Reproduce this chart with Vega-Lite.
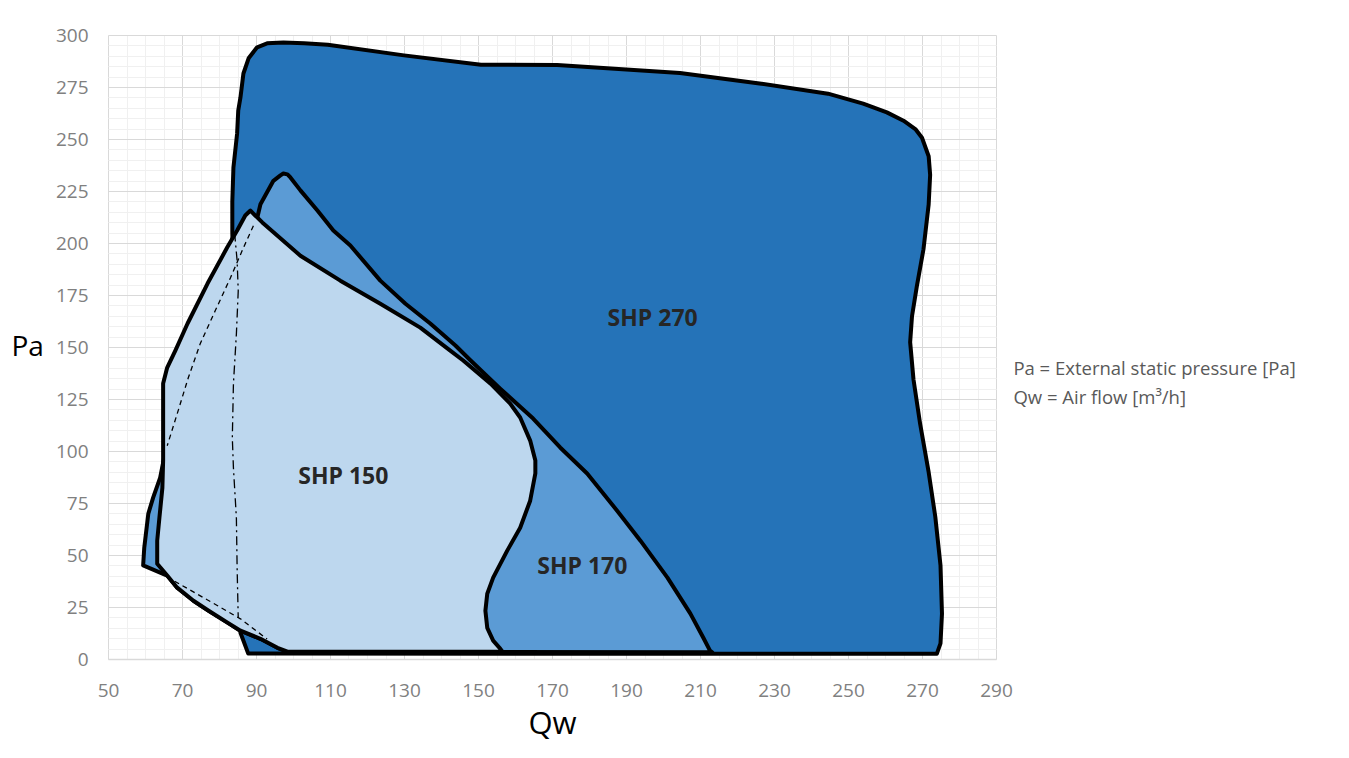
{
  "$schema": "https://vega.github.io/schema/vega-lite/v6.json",
  "width": 888,
  "height": 624,
  "autosize": "none",
  "padding": {"left": 108, "top": 35, "right": 353, "bottom": 99},
  "background": "white",
  "config": {"view": {"stroke": null}, "font": "Open Sans"},
  "datasets": {
    "shp270": [
      {"i":1,"Qw":87.9,"Pa":2.6},{"i":2,"Qw":85.8,"Pa":12.6},{"i":3,"Qw":83.6,"Pa":205},{"i":4,"Qw":83.6,"Pa":220},
      {"i":5,"Qw":83.9,"Pa":236.3},{"i":6,"Qw":84.9,"Pa":252.7},{"i":7,"Qw":85.2,"Pa":263.7},{"i":8,"Qw":85.8,"Pa":270},
      {"i":9,"Qw":86.6,"Pa":281.5},{"i":10,"Qw":88,"Pa":288.8},{"i":11,"Qw":90.3,"Pa":294.1},{"i":12,"Qw":93,"Pa":296},
      {"i":13,"Qw":97.4,"Pa":296.4},{"i":14,"Qw":103,"Pa":296},{"i":15,"Qw":109.4,"Pa":295.3},{"i":16,"Qw":130,"Pa":290.2},
      {"i":17,"Qw":150.8,"Pa":285.7},{"i":18,"Qw":171.4,"Pa":285.6},{"i":19,"Qw":204.6,"Pa":281.7},{"i":20,"Qw":226.6,"Pa":276.6},
      {"i":21,"Qw":244.6,"Pa":271.8},{"i":22,"Qw":254.1,"Pa":267},{"i":23,"Qw":260.5,"Pa":262.8},{"i":24,"Qw":265,"Pa":258.8},
      {"i":25,"Qw":268.2,"Pa":254.8},{"i":26,"Qw":270,"Pa":250.6},{"i":27,"Qw":271.8,"Pa":241.7},{"i":28,"Qw":272.2,"Pa":232.8},
      {"i":29,"Qw":271.8,"Pa":218.5},{"i":30,"Qw":270.4,"Pa":197},{"i":31,"Qw":268.6,"Pa":179.1},{"i":32,"Qw":267.3,"Pa":164.8},
      {"i":33,"Qw":266.8,"Pa":152.3},{"i":34,"Qw":267.7,"Pa":134.4},{"i":35,"Qw":269.5,"Pa":113},{"i":36,"Qw":271.8,"Pa":89.8},
      {"i":37,"Qw":273.6,"Pa":68.3},{"i":38,"Qw":275,"Pa":45},{"i":39,"Qw":275.4,"Pa":21.8},{"i":40,"Qw":275,"Pa":7.5},
      {"i":41,"Qw":274,"Pa":2.5}
    ],
    "shp170": [
      {"i":1,"Qw":59.5,"Pa":45},{"i":2,"Qw":59.8,"Pa":53.5},{"i":3,"Qw":60.9,"Pa":69.9},{"i":4,"Qw":62.2,"Pa":77.6},
      {"i":5,"Qw":64.1,"Pa":87.2},{"i":6,"Qw":64.9,"Pa":94.4},{"i":7,"Qw":65.5,"Pa":100.2},{"i":8,"Qw":66,"Pa":114.6},
      {"i":9,"Qw":66.8,"Pa":131.5},{"i":10,"Qw":70.9,"Pa":148.3},{"i":11,"Qw":79,"Pa":172.3},{"i":12,"Qw":84.9,"Pa":191.6},
      {"i":13,"Qw":88.5,"Pa":206},{"i":14,"Qw":90.3,"Pa":211.8},{"i":15,"Qw":91.2,"Pa":218.6},{"i":16,"Qw":94.7,"Pa":229.9},
      {"i":17,"Qw":96.6,"Pa":232.5},{"i":18,"Qw":97.4,"Pa":233.4},{"i":19,"Qw":98.5,"Pa":233},{"i":20,"Qw":99.3,"Pa":231.5},
      {"i":21,"Qw":102,"Pa":225.3},{"i":22,"Qw":106.6,"Pa":215.6},{"i":23,"Qw":110.9,"Pa":206},{"i":24,"Qw":115.5,"Pa":198.8},
      {"i":25,"Qw":123.6,"Pa":181.9},{"i":26,"Qw":130.4,"Pa":170.8},{"i":27,"Qw":137.1,"Pa":161.3},{"i":28,"Qw":143.9,"Pa":150.7},
      {"i":29,"Qw":148,"Pa":143.5},{"i":30,"Qw":156,"Pa":130},{"i":31,"Qw":164.9,"Pa":115.6},{"i":32,"Qw":172.2,"Pa":101.7},
      {"i":33,"Qw":179.5,"Pa":89.2},{"i":34,"Qw":187.6,"Pa":71.3},{"i":35,"Qw":193.9,"Pa":56.9},{"i":36,"Qw":201.2,"Pa":39.1},
      {"i":37,"Qw":207.4,"Pa":21.8},{"i":38,"Qw":210.9,"Pa":10.2},{"i":39,"Qw":212.7,"Pa":4},{"i":40,"Qw":213.3,"Pa":3.2},
      {"i":41,"Qw":98.5,"Pa":3.5},{"i":42,"Qw":95.8,"Pa":5.4},{"i":43,"Qw":91.2,"Pa":9.7},{"i":44,"Qw":85.8,"Pa":13.6},
      {"i":45,"Qw":82.3,"Pa":17.5},{"i":46,"Qw":77.2,"Pa":23.2},{"i":47,"Qw":73.1,"Pa":28},{"i":48,"Qw":68.7,"Pa":34.3},
      {"i":49,"Qw":66,"Pa":40.1}
    ],
    "shp150": [
      {"i":1,"Qw":88.5,"Pa":215.6},{"i":2,"Qw":89.8,"Pa":213.2},{"i":3,"Qw":91.7,"Pa":209.9},{"i":4,"Qw":102,"Pa":193.9},
      {"i":5,"Qw":112.8,"Pa":181.9},{"i":6,"Qw":123.6,"Pa":170.8},{"i":7,"Qw":134.4,"Pa":159.3},{"i":8,"Qw":142.5,"Pa":148.3},
      {"i":9,"Qw":146,"Pa":143.5},{"i":10,"Qw":153.4,"Pa":132.4},{"i":11,"Qw":158.7,"Pa":122.8},{"i":12,"Qw":161.4,"Pa":116.1},
      {"i":13,"Qw":164.1,"Pa":105},{"i":14,"Qw":165.5,"Pa":95.4},{"i":15,"Qw":165.5,"Pa":89.2},{"i":16,"Qw":164.1,"Pa":76.1},
      {"i":17,"Qw":161.4,"Pa":63.1},{"i":18,"Qw":157.9,"Pa":52.1},{"i":19,"Qw":154.1,"Pa":39.1},{"i":20,"Qw":152.5,"Pa":31.4},
      {"i":21,"Qw":152,"Pa":23.2},{"i":22,"Qw":152.5,"Pa":15},{"i":23,"Qw":154.1,"Pa":8.8},{"i":24,"Qw":156,"Pa":5},
      {"i":25,"Qw":156.6,"Pa":3.5},{"i":26,"Qw":98.5,"Pa":3.5},{"i":27,"Qw":95.8,"Pa":5.4},{"i":28,"Qw":91.2,"Pa":9.7},
      {"i":29,"Qw":85.8,"Pa":13.6},{"i":30,"Qw":82.3,"Pa":17.5},{"i":31,"Qw":77.2,"Pa":23.2},{"i":32,"Qw":73.1,"Pa":28},
      {"i":33,"Qw":68.7,"Pa":34.3},{"i":34,"Qw":66,"Pa":40.1},{"i":35,"Qw":63.3,"Pa":45.8},{"i":36,"Qw":63.3,"Pa":56.9},
      {"i":37,"Qw":63.9,"Pa":68},{"i":38,"Qw":64.7,"Pa":82.3},{"i":39,"Qw":64.9,"Pa":95.4},{"i":40,"Qw":64.9,"Pa":116.1},
      {"i":41,"Qw":64.9,"Pa":132.4},{"i":42,"Qw":66,"Pa":140.1},{"i":43,"Qw":68.2,"Pa":148.3},{"i":44,"Qw":71.5,"Pa":161.3},
      {"i":45,"Qw":76.9,"Pa":180.5},{"i":46,"Qw":82.2,"Pa":197.8},{"i":47,"Qw":84.9,"Pa":206},{"i":48,"Qw":87.1,"Pa":213.2}
    ],
    "dashed": [
      {"g":"a","i":1,"Qw":89.3,"Pa":208.3},{"g":"a","i":2,"Qw":86.6,"Pa":197.7},{"g":"a","i":3,"Qw":83.1,"Pa":183.3},
      {"g":"a","i":4,"Qw":79,"Pa":167.5},{"g":"a","i":5,"Qw":74.9,"Pa":151.5},{"g":"a","i":6,"Qw":71.7,"Pa":135.2},
      {"g":"a","i":7,"Qw":68.7,"Pa":117.9},{"g":"a","i":8,"Qw":66,"Pa":102.5},
      {"g":"b","i":1,"Qw":65.9,"Pa":39.5},{"g":"b","i":2,"Qw":76.8,"Pa":28.5},{"g":"b","i":3,"Qw":85.8,"Pa":19.3},
      {"g":"b","i":4,"Qw":93,"Pa":9.6}
    ],
    "dashdot": [
      {"i":1,"Qw":84.2,"Pa":205},{"i":2,"Qw":84.9,"Pa":191.5},{"i":3,"Qw":85.2,"Pa":177},{"i":4,"Qw":84.7,"Pa":156.3},
      {"i":5,"Qw":83.9,"Pa":132.3},{"i":6,"Qw":83.6,"Pa":106.3},{"i":7,"Qw":83.9,"Pa":91.9},{"i":8,"Qw":84.7,"Pa":67.8},
      {"i":9,"Qw":84.9,"Pa":43.8},{"i":10,"Qw":85.2,"Pa":19.7}
    ],
    "labels": [
      {"label":"SHP 270","Qw":197.2,"Pa":163.7},
      {"label":"SHP 150","Qw":113.6,"Pa":87.7},
      {"label":"SHP 170","Qw":178.2,"Pa":44.4}
    ],
    "notes": [
      {"label":"Pa = External static pressure [Pa]","Qw":294.7,"Pa":139.6},
      {"label":"Qw = Air flow [m³/h]","Qw":294.7,"Pa":125.7}
    ]
  },
  "encoding": {
    "x": {
      "field": "Qw", "type": "quantitative",
      "scale": {"domain": [50, 290], "nice": false, "zero": false},
      "axis": {
        "values": [50,55,60,65,70,75,80,85,90,95,100,105,110,115,120,125,130,135,140,145,150,155,160,165,170,175,180,185,190,195,200,205,210,215,220,225,230,235,240,245,250,255,260,265,270,275,280,285,290],
        "labelExpr": "datum.value % 20 == 10 ? datum.label : ''",
        "gridColor": {"condition": {"test": "datum.value % 20 == 10", "value": "#d9d9d9"}, "value": "#f0f0f0"},
        "gridWidth": 1,
        "ticks": false, "domain": true, "domainColor": "#d9d9d9", "domainWidth": 1.5,
        "labelOverlap": false, "labelBound": false, "labelFlush": false,
        "labelFontSize": 19, "labelColor": "#808080", "labelFont": "Open Sans", "labelPadding": 22,
        "title": "Qw", "titleFontSize": 31, "titleFontWeight": "normal", "titleColor": "#000000", "titleFont": "Open Sans",
        "titleBaseline": "middle", "titleY": 65
      }
    },
    "y": {
      "field": "Pa", "type": "quantitative",
      "scale": {"domain": [0, 300], "nice": false},
      "axis": {
        "values": [0,5,10,15,20,25,30,35,40,45,50,55,60,65,70,75,80,85,90,95,100,105,110,115,120,125,130,135,140,145,150,155,160,165,170,175,180,185,190,195,200,205,210,215,220,225,230,235,240,245,250,255,260,265,270,275,280,285,290,295,300],
        "labelExpr": "datum.value % 25 == 0 ? datum.label : ''",
        "gridColor": {"condition": {"test": "datum.value % 25 == 0", "value": "#d9d9d9"}, "value": "#f0f0f0"},
        "gridWidth": 1,
        "ticks": false, "domain": false,
        "labelOverlap": false, "labelBound": false, "labelFlush": false,
        "labelFontSize": 19, "labelColor": "#808080", "labelFont": "Open Sans", "labelPadding": 20,
        "title": "Pa", "titleFontSize": 28, "titleFontWeight": "normal", "titleColor": "#000000", "titleFont": "Open Sans",
        "titleAngle": 0, "titleAlign": "left", "titleBaseline": "middle", "titleX": -97, "titleY": 312
      }
    }
  },
  "layer": [
    {
      "data": {"name": "shp270"},
      "mark": {"type": "line", "interpolate": "linear-closed", "fill": "#2573b8", "stroke": "#000000", "strokeWidth": 4, "strokeJoin": "round"},
      "encoding": {"order": {"field": "i", "type": "quantitative"}}
    },
    {
      "data": {"name": "shp170"},
      "mark": {"type": "line", "interpolate": "linear-closed", "fill": "#5b9bd5", "stroke": "#000000", "strokeWidth": 4, "strokeJoin": "round"},
      "encoding": {"order": {"field": "i", "type": "quantitative"}}
    },
    {
      "data": {"name": "shp150"},
      "mark": {"type": "line", "interpolate": "linear-closed", "fill": "#bdd7ee", "stroke": "#000000", "strokeWidth": 4, "strokeJoin": "round"},
      "encoding": {"order": {"field": "i", "type": "quantitative"}}
    },
    {
      "data": {"name": "dashed"},
      "mark": {"type": "line", "stroke": "#000000", "strokeWidth": 1.3, "strokeDash": [5, 4]},
      "encoding": {"order": {"field": "i", "type": "quantitative"}, "detail": {"field": "g"}}
    },
    {
      "data": {"name": "dashdot"},
      "mark": {"type": "line", "stroke": "#000000", "strokeWidth": 1.3, "strokeDash": [9, 4, 2, 4]},
      "encoding": {"order": {"field": "i", "type": "quantitative"}}
    },
    {
      "data": {"name": "labels"},
      "mark": {"type": "text", "fontSize": 23, "fontWeight": "bold", "font": "Open Sans", "color": "#262626", "align": "center", "baseline": "middle"},
      "encoding": {"text": {"field": "label"}}
    },
    {
      "data": {"name": "notes"},
      "mark": {"type": "text", "fontSize": 18.5, "font": "Open Sans", "color": "#595959", "align": "left", "baseline": "middle"},
      "encoding": {"text": {"field": "label"}}
    }
  ]
}
